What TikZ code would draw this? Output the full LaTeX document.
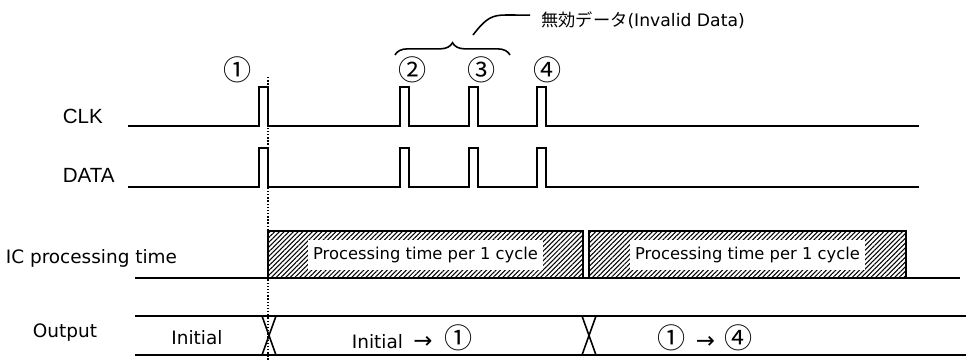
\documentclass[tikz,border=0pt]{standalone}
\usepackage{fontspec}
\setmainfont{DejaVu Sans}
\newfontfamily\jpfont{Noto Sans CJK JP}
\newfontfamily\sigfont{Liberation Sans}
\usetikzlibrary{positioning, arrows.meta, calc, decorations.pathreplacing, patterns.meta}

% circled number and arrow used in the output bus
\newcommand{\cnum}[1]{{\jpfont\fontsize{16}{16}\selectfont #1}}
\newcommand{\rarr}{{\fontsize{13}{13}\selectfont →}}

\begin{document}
\begin{tikzpicture}[x=0.02cm, y=-0.02cm, line width=1pt,
  sig/.style={font=\sigfont\fontsize{11.7}{14}\selectfont, anchor=west, inner sep=0pt},
  lab/.style={font=\fontsize{10.5}{13}\selectfont, inner sep=0pt},
  num/.style={font=\jpfont\fontsize{16}{16}\selectfont, inner sep=0pt},
  busy/.style={draw, line width=1pt, pattern={Lines[angle=45, distance=1.9pt, line width=0.6pt]}},
  cyc/.style={fill=white, inner xsep=3pt, inner ysep=4pt, font=\fontsize{9.3}{11}\selectfont}]

\useasboundingbox (0,0) rectangle (966,360);

% --- Signal names ---
\node[sig] (clk) at (62,116) {CLK};
\node[sig] (data) at (62,175) {DATA};
\node[lab, anchor=west] (ic) at (5,258) {IC processing time};
\node[lab] (out) at (65,333) {Output};

% --- CLK and DATA waveforms (pulses 1-4) ---
\foreach \y/\h in {126/87, 187/148} {
  \draw (128,\y) \foreach \p in {259, 400, 469, 537} {
    -- (\p,\y) -- (\p,\h) -- (\p+9,\h) -- (\p+9,\y) } -- (919,\y);
}

% --- Pulse numbers ---
\foreach \x/\n/\lab in {238/1/①, 413/2/②, 482/3/③, 548/4/④} {
  \node[num] (p\n) at (\x,70) {\lab};
}

% --- Timing reference at pulse 1 ---
\draw[line width=0.8pt, densely dotted] (268,77) -- (268,360);

% --- Invalid data brace ---
\coordinate (bl) at (395,55);
\coordinate (br) at (510,55);
\coordinate (lead) at (473,35);
\draw[decorate, decoration={brace, amplitude=7pt}, line width=0.9pt] (bl) -- (br);
\node[anchor=west, inner xsep=6pt, font=\fontsize{9.8}{12}\selectfont] (inv) at (530,20)
  {{\jpfont 無効データ}(Invalid Data)};
\draw[line width=0.9pt] (lead) .. controls (486,18) and (492,15) .. (506,15)
  -- ([yshift=2.8pt]inv.west);

% --- IC processing time ---
\draw[line width=0.9pt] (135,278) -- (960,278);
\foreach \a/\b/\k in {268/583/1, 589/906/2} {
  \draw[busy] (\a,278) rectangle (\b,231);
  \node[cyc] (cyc\k) at ({(\a+\b)/2},255) {Processing time per 1 cycle};
}

% --- Output bus ---
\draw[line width=0.9pt] (135,316) -- (966,316);
\draw[line width=0.9pt] (135,355) -- (966,355);
\foreach \x in {269, 589} {
  \draw[line width=0.9pt] (\x-7,316) -- (\x+7,355) (\x+7,316) -- (\x-7,355);
}
\node[lab] (o0) at (197,338) {Initial};
\node[lab] (o1) at (412,338) {Initial\hspace{6pt}\rarr\hspace{6.5pt}\cnum{①}};
\node[lab] (o2) at (705,338) {\cnum{①}\hspace{6pt}\rarr\hspace{5.5pt}\cnum{④}};

\end{tikzpicture}
\end{document}
